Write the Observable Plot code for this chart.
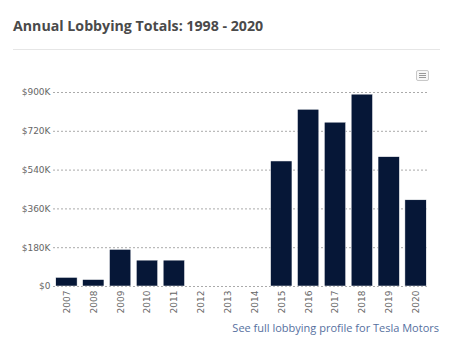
<!DOCTYPE html>
<html><head><meta charset="utf-8">
<script src="https://cdn.jsdelivr.net/npm/d3@7"></script>
<script src="https://cdn.jsdelivr.net/npm/@observablehq/plot@0.6"></script>
<style>
body{margin:0;background:#fff;width:450px;height:351px;position:relative;overflow:hidden;font-family:"Open Sans",sans-serif;}
#title{position:absolute;left:13px;top:16px;font-size:14.2px;font-weight:700;color:#4a4a4a;}
#rule{position:absolute;left:13px;top:49px;width:427px;height:1px;background:#e6e6e6;}
#menu{position:absolute;left:416px;top:70px;width:11px;height:9px;border:1px solid #c8c8c8;border-radius:2px;background:#f7f7f7;}
#menu i{position:absolute;left:2px;width:7px;height:1px;background:#999;}
#chart{position:absolute;left:0;top:60px;}
#foot{position:absolute;right:11px;top:320px;font-size:11px;color:#5670a0;}
</style></head><body>
<div id="title">Annual Lobbying Totals: 1998 - 2020</div>
<div id="rule"></div>
<div id="menu"><i style="top:2px"></i><i style="top:4px"></i><i style="top:6px"></i></div>
<div id="chart"></div>
<div id="foot">See full lobbying profile for Tesla Motors</div>
<script>
const years = ["2007","2008","2009","2010","2011","2012","2013","2014","2015","2016","2017","2018","2019","2020"];
const totals = [40000,30000,170000,120000,120000,0,0,0,580000,820000,760000,890000,600000,400000];
const yTicks = [0,180000,360000,540000,720000,900000];
const data = years.map((y,i)=>({year:y,total:totals[i]}));
const fmt = d => d===0 ? "$0" : "$" + (d/1000) + "K";
const chart = Plot.plot({
  width:450, height:260,
  marginLeft:53, marginRight:21, marginTop:32, marginBottom:34,
  style:{fontFamily:"DejaVu Sans, Verdana, sans-serif", fontSize:"9px", color:"#666", background:"transparent"},
  x:{domain:years, round:false, paddingInner:0.205, paddingOuter:0.1025, label:null, tickRotate:-90, tickSize:0, tickPadding:4},
  y:{domain:[0,900000], ticks:yTicks, tickFormat:fmt, label:null, tickSize:0, tickPadding:3},
  marks:[
    Plot.gridY(yTicks,{stroke:"#aaa", strokeOpacity:1, strokeDasharray:"2,2"}),
    Plot.barY(data,{x:"year", y:"total", fill:"#061737", stroke:"#fff", strokeWidth:0.5})
  ]
});
document.getElementById("chart").appendChild(chart);
</script>
</body></html>
